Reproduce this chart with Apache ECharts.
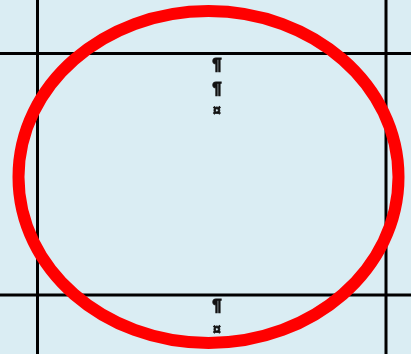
<!DOCTYPE html>
<html>
<head>
<meta charset="utf-8">
<script src="https://cdn.jsdelivr.net/npm/echarts@6/dist/echarts.min.js"></script>
<style>
  html, body { margin: 0; padding: 0; background: #daedf3; }
  #chart { width: 411px; height: 354px; }
</style>
</head>
<body>
<div id="chart"></div>
<script>
// table rules (page units, x from left, y from top)
const colLines = [37.5, 386];
const rowLines = [53.5, 295];

// formatting marks inside the middle cell
const markText = ['¶', '¶', '¤', '¶', '¤'];
const markX = [217, 217, 217, 217, 217];
const markY = [65, 89, 111, 306, 330];

// red annotation ellipse: centre x, centre y, radius x, radius y
const ringCenter = [208.5, 177];
const ringRadius = [190, 166];

const chart = echarts.init(document.getElementById('chart'), null, { renderer: 'canvas' });

const lineData = colLines.map(x => [x, 0, x, 354])
  .concat(rowLines.map(y => [0, y, 411, y]));

const option = {
  backgroundColor: '#daedf3',
  animation: false,
  grid: { left: 0, right: 0, top: 0, bottom: 0 },
  xAxis: { type: 'value', min: 0, max: 411, show: false },
  yAxis: { type: 'value', min: 0, max: 354, inverse: true, show: false },
  series: [
    {
      type: 'custom',
      data: lineData,
      renderItem: (params, api) => {
        const a = api.coord([api.value(0), api.value(1)]);
        const b = api.coord([api.value(2), api.value(3)]);
        return {
          type: 'line',
          shape: { x1: a[0], y1: a[1], x2: b[0], y2: b[1] },
          style: { stroke: '#000', lineWidth: 3 }
        };
      }
    },
    {
      type: 'custom',
      data: markText.map((t, i) => [markX[i], markY[i], t]),
      renderItem: (params, api) => {
        const p = api.coord([api.value(0), api.value(1)]);
        const t = markText[params.dataIndex];
        return {
          type: 'text',
          x: p[0],
          y: p[1],
          style: {
            text: t,
            fill: '#111',
            stroke: '#111',
            lineWidth: t === '¤' ? 0.8 : 1,
            font: t === '¤' ? 'bold 14px "Liberation Sans"' : 'bold 17px "Liberation Sans"',
            align: 'center',
            verticalAlign: 'middle'
          }
        };
      }
    },
    {
      type: 'custom',
      data: [[ringCenter[0], ringCenter[1], ringRadius[0], ringRadius[1]]],
      renderItem: (params, api) => {
        const c = api.coord([api.value(0), api.value(1)]);
        const s = api.size([api.value(2), api.value(3)]);
        return {
          type: 'ellipse',
          shape: { cx: c[0], cy: c[1], rx: s[0], ry: s[1] },
          style: { fill: 'none', stroke: '#ff0000', lineWidth: 12 }
        };
      }
    }
  ]
};

chart.setOption(option);
</script>
</body>
</html>
